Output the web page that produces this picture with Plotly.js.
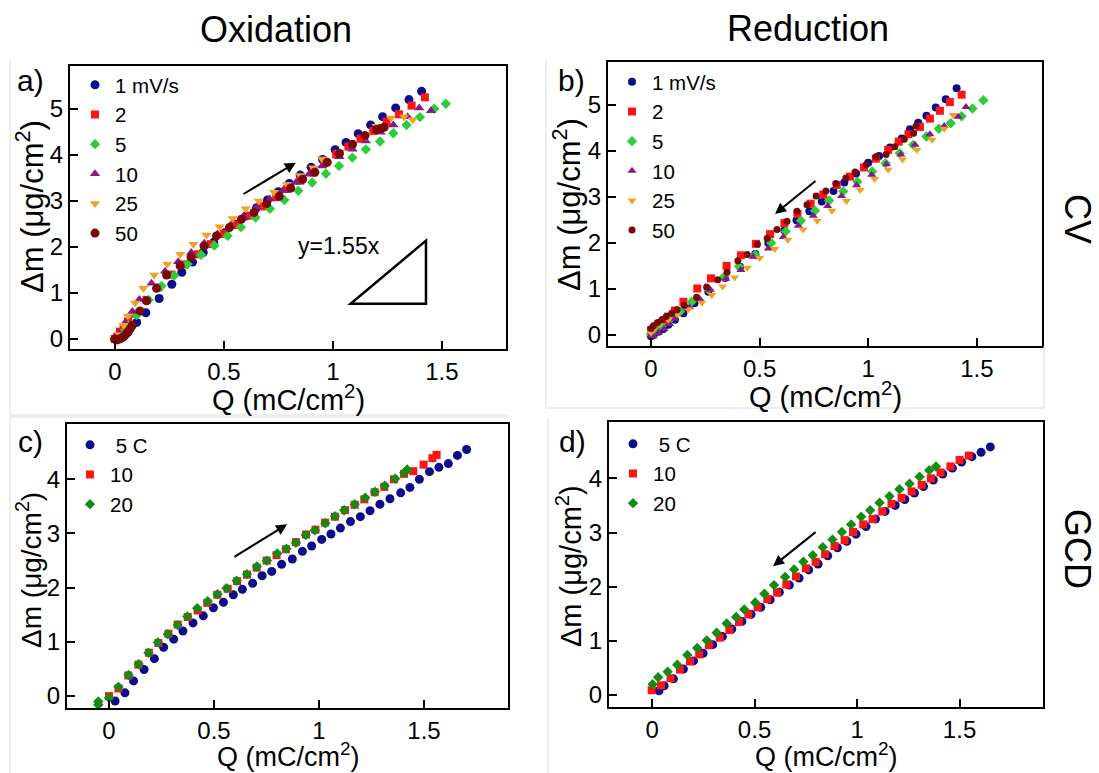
<!DOCTYPE html>
<html>
<head>
<meta charset="utf-8">
<script src="https://cdn.plot.ly/plotly-3.0.1.min.js"></script>
<style>html,body{margin:0;padding:0;background:#fff;}#chart{width:1099px;height:773px;}</style>
</head>
<body>
<div id="chart"></div>
<script>
// ---------- Panel a: CV oxidation ----------
const aNames = ["1 mV/s", "2", "5", "10", "25", "50"];
const a1x = [0.0, 0.02, 0.04, 0.06, 0.10, 0.142, 0.203, 0.261, 0.307, 0.356, 0.405, 0.453, 0.505, 0.55, 0.60, 0.65, 0.70, 0.75, 0.80, 0.85, 0.90, 0.953, 1.01, 1.06, 1.116, 1.173, 1.228, 1.288, 1.349, 1.407];
const a1y = [0.0, 0.02, 0.06, 0.15, 0.36, 0.57, 0.88, 1.19, 1.45, 1.67, 1.88, 2.10, 2.31, 2.49, 2.67, 2.85, 3.02, 3.20, 3.38, 3.56, 3.73, 3.90, 4.11, 4.27, 4.46, 4.65, 4.83, 5.02, 5.20, 5.38];
const a2x = [0.0, 0.01, 0.023, 0.04, 0.06, 0.09, 0.145, 0.2, 0.26, 0.32, 0.38, 0.44, 0.5, 0.56, 0.62, 0.68, 0.74, 0.79, 0.85, 0.91, 0.96, 1.015, 1.071, 1.127, 1.185, 1.246, 1.303, 1.361, 1.422];
const a2y = [0.0, 0.05, 0.16, 0.25, 0.38, 0.55, 0.85, 1.12, 1.40, 1.62, 1.84, 2.06, 2.28, 2.48, 2.68, 2.88, 3.08, 3.26, 3.44, 3.62, 3.82, 4.01, 4.18, 4.35, 4.52, 4.72, 4.88, 5.07, 5.25];
const a5x = [0.0, 0.03, 0.06, 0.1, 0.155, 0.214, 0.272, 0.333, 0.395, 0.456, 0.517, 0.578, 0.645, 0.711, 0.777, 0.841, 0.905, 0.968, 1.028, 1.089, 1.151, 1.216, 1.277, 1.338, 1.399, 1.465, 1.518];
const a5y = [0.0, 0.12, 0.3, 0.52, 0.85, 1.15, 1.38, 1.63, 1.83, 2.03, 2.24, 2.43, 2.64, 2.83, 3.02, 3.22, 3.40, 3.59, 3.76, 3.94, 4.12, 4.29, 4.47, 4.65, 4.82, 5.0, 5.11];
const a10x = [0.0, 0.02, 0.046, 0.08, 0.112, 0.168, 0.23, 0.29, 0.35, 0.41, 0.47, 0.53, 0.59, 0.65, 0.71, 0.77, 0.83, 0.89, 0.95, 1.03, 1.09, 1.151, 1.219, 1.277, 1.343, 1.396, 1.45];
const a10y = [0.0, 0.12, 0.35, 0.6, 0.86, 1.21, 1.47, 1.68, 1.88, 2.08, 2.28, 2.47, 2.66, 2.86, 3.04, 3.22, 3.40, 3.58, 3.76, 3.96, 4.12, 4.30, 4.49, 4.65, 4.83, 5.02, 4.96];
const a25x = [0.0, 0.02, 0.04, 0.06, 0.093, 0.131, 0.18, 0.24, 0.30, 0.36, 0.42, 0.48, 0.54, 0.60, 0.66, 0.73, 0.79, 0.85, 0.91, 0.951, 1.03, 1.09, 1.15, 1.2, 1.266, 1.326, 1.366];
const a25y = [0.0, 0.1, 0.3, 0.5, 0.78, 1.1, 1.39, 1.63, 1.84, 2.06, 2.26, 2.44, 2.62, 2.83, 3.0, 3.19, 3.36, 3.55, 3.72, 3.91, 4.06, 4.22, 4.40, 4.62, 4.80, 4.83, 4.76];
const a50x = [0.0, 0.01, 0.02, 0.03, 0.04, 0.05, 0.06, 0.07, 0.08, 0.115, 0.145, 0.191, 0.237, 0.299, 0.349, 0.409, 0.466, 0.525, 0.58, 0.638, 0.696, 0.754, 0.806, 0.861, 0.917, 0.974, 1.03, 1.09, 1.147, 1.2, 1.22, 1.235];
const a50y = [0.0, -0.02, 0.0, 0.02, 0.05, 0.1, 0.15, 0.22, 0.3, 0.61, 0.83, 1.10, 1.39, 1.59, 1.78, 2.02, 2.24, 2.42, 2.60, 2.75, 2.94, 3.10, 3.28, 3.47, 3.62, 3.84, 4.03, 4.23, 4.42, 4.55, 4.57, 4.60];

// ---------- Panel b: CV reduction ----------
const bNames = ["1 mV/s", "2", "5", "10", "25", "50"];
const b1x = [0.0, 0.011, 0.034, 0.057, 0.08, 0.11, 0.149, 0.2, 0.264, 0.341, 0.41, 0.48, 0.54, 0.614, 0.67, 0.729, 0.786, 0.84, 0.89, 0.944, 1.0, 1.05, 1.1, 1.154, 1.192, 1.23, 1.268, 1.311, 1.357, 1.407];
const b1y = [-0.03, 0.0, 0.07, 0.13, 0.22, 0.33, 0.47, 0.69, 0.94, 1.24, 1.48, 1.76, 2.0, 2.27, 2.49, 2.69, 2.90, 3.13, 3.31, 3.51, 3.74, 3.89, 4.07, 4.27, 4.47, 4.61, 4.76, 4.94, 5.12, 5.36];
const b2x = [0.0, 0.02, 0.04, 0.06, 0.08, 0.11, 0.149, 0.213, 0.276, 0.348, 0.414, 0.483, 0.548, 0.614, 0.674, 0.735, 0.793, 0.855, 0.916, 0.98, 1.035, 1.092, 1.14, 1.185, 1.238, 1.284, 1.33, 1.376, 1.43];
const b2y = [0.1, 0.17, 0.24, 0.32, 0.4, 0.53, 0.72, 1.01, 1.23, 1.50, 1.73, 1.98, 2.19, 2.43, 2.63, 2.85, 3.05, 3.26, 3.44, 3.64, 3.83, 4.02, 4.20, 4.36, 4.52, 4.70, 4.87, 5.06, 5.22];
const b5x = [0.0, 0.02, 0.05, 0.09, 0.134, 0.187, 0.264, 0.338, 0.405, 0.48, 0.553, 0.62, 0.69, 0.755, 0.82, 0.885, 0.95, 1.018, 1.08, 1.145, 1.207, 1.268, 1.325, 1.38, 1.43, 1.48, 1.53];
const b5y = [0.02, 0.1, 0.2, 0.35, 0.51, 0.72, 0.99, 1.27, 1.49, 1.74, 2.0, 2.25, 2.48, 2.70, 2.92, 3.12, 3.33, 3.55, 3.73, 3.95, 4.13, 4.31, 4.48, 4.6, 4.75, 4.92, 5.1];
const b10x = [0.0, 0.011, 0.035, 0.06, 0.085, 0.11, 0.177, 0.225, 0.273, 0.345, 0.414, 0.47, 0.54, 0.609, 0.678, 0.747, 0.813, 0.877, 0.946, 1.016, 1.084, 1.15, 1.215, 1.284, 1.35, 1.414, 1.45];
const b10y = [0.0, -0.03, 0.05, 0.13, 0.24, 0.35, 0.60, 0.78, 0.98, 1.22, 1.41, 1.70, 1.88, 2.13, 2.37, 2.59, 2.80, 3.02, 3.25, 3.48, 3.71, 3.92, 4.13, 4.36, 4.54, 4.74, 4.95];
const b25x = [0.0, 0.011, 0.04, 0.08, 0.12, 0.172, 0.234, 0.28, 0.33, 0.385, 0.443, 0.5, 0.57, 0.63, 0.7, 0.765, 0.833, 0.9, 0.963, 1.03, 1.092, 1.158, 1.224, 1.294, 1.35, 1.391];
const b25y = [0.05, 0.12, 0.23, 0.33, 0.45, 0.56, 0.70, 0.87, 1.05, 1.25, 1.46, 1.67, 1.87, 2.07, 2.29, 2.48, 2.70, 2.91, 3.15, 3.39, 3.59, 3.81, 4.02, 4.24, 4.48, 4.78];
const b50x = [0.0, 0.011, 0.03, 0.05, 0.07, 0.095, 0.12, 0.153, 0.21, 0.256, 0.307, 0.35, 0.4, 0.443, 0.49, 0.535, 0.58, 0.626, 0.672, 0.718, 0.76, 0.805, 0.851, 0.897, 0.939, 0.99, 1.036, 1.082, 1.123, 1.166, 1.209, 1.22];
const b50y = [0.14, 0.2, 0.27, 0.33, 0.4, 0.47, 0.55, 0.64, 0.82, 1.04, 1.2, 1.36, 1.61, 1.75, 1.97, 2.1, 2.29, 2.47, 2.69, 2.83, 3.02, 3.13, 3.29, 3.41, 3.54, 3.70, 3.87, 3.92, 4.09, 4.25, 4.38, 4.54];

// ---------- Panel c: GCD oxidation ----------
const cNames = ["\u00a05 C", "10", "20"];
const c5x = [0.029, 0.076, 0.117, 0.167, 0.216, 0.26, 0.308, 0.352, 0.4, 0.449, 0.497, 0.545, 0.592, 0.635, 0.684, 0.729, 0.775, 0.822, 0.873, 0.921, 0.965, 1.013, 1.057, 1.102, 1.15, 1.197, 1.243, 1.29, 1.338, 1.389, 1.433, 1.478, 1.526, 1.571, 1.616, 1.659, 1.703];
const c5y = [-0.09, 0.06, 0.28, 0.49, 0.69, 0.90, 1.05, 1.20, 1.35, 1.48, 1.63, 1.73, 1.87, 1.97, 2.08, 2.22, 2.30, 2.43, 2.53, 2.67, 2.77, 2.89, 2.99, 3.10, 3.22, 3.31, 3.42, 3.54, 3.64, 3.75, 3.85, 4.0, 4.14, 4.22, 4.29, 4.44, 4.55];
const c10x = [0.0, 0.045, 0.092, 0.14, 0.19, 0.235, 0.283, 0.327, 0.375, 0.422, 0.468, 0.516, 0.565, 0.61, 0.657, 0.703, 0.751, 0.798, 0.843, 0.89, 0.938, 0.983, 1.029, 1.076, 1.124, 1.17, 1.216, 1.265, 1.311, 1.357, 1.405, 1.449, 1.498, 1.54, 1.56];
const c10y = [0.0, 0.14, 0.38, 0.58, 0.80, 0.98, 1.15, 1.32, 1.46, 1.58, 1.72, 1.87, 1.98, 2.12, 2.24, 2.37, 2.50, 2.60, 2.71, 2.84, 2.98, 3.07, 3.20, 3.31, 3.43, 3.53, 3.63, 3.76, 3.86, 4.0, 4.10, 4.15, 4.27, 4.39, 4.45];
const c20x = [-0.051, -0.051, 0.0, 0.045, 0.093, 0.141, 0.188, 0.233, 0.28, 0.327, 0.373, 0.42, 0.47, 0.516, 0.56, 0.608, 0.657, 0.704, 0.752, 0.801, 0.845, 0.89, 0.937, 0.98, 1.03, 1.076, 1.12, 1.17, 1.22, 1.266, 1.313, 1.363, 1.406, 1.42];
const c20y = [-0.1, -0.16, -0.03, 0.17, 0.39, 0.59, 0.80, 0.99, 1.14, 1.31, 1.47, 1.62, 1.75, 1.88, 1.99, 2.13, 2.25, 2.39, 2.50, 2.63, 2.72, 2.83, 2.97, 3.06, 3.19, 3.32, 3.43, 3.54, 3.66, 3.77, 3.88, 4.01, 4.12, 4.18];

// ---------- Panel d: GCD reduction ----------
const dNames = ["\u00a05 C", "10", "20"];
const d5x = [0.034, 0.059, 0.104, 0.153, 0.202, 0.249, 0.296, 0.343, 0.389, 0.438, 0.483, 0.53, 0.576, 0.621, 0.67, 0.717, 0.764, 0.81, 0.857, 0.904, 0.95, 0.995, 1.044, 1.09, 1.137, 1.186, 1.233, 1.28, 1.324, 1.372, 1.418, 1.465, 1.51, 1.56, 1.605, 1.65];
const d5y = [0.08, 0.17, 0.30, 0.48, 0.63, 0.77, 0.93, 1.08, 1.22, 1.36, 1.49, 1.62, 1.76, 1.90, 2.03, 2.16, 2.31, 2.42, 2.57, 2.72, 2.84, 2.97, 3.11, 3.25, 3.39, 3.50, 3.61, 3.73, 3.85, 3.97, 4.08, 4.19, 4.30, 4.40, 4.48, 4.58];
const d10x = [-0.002, 0.044, 0.09, 0.136, 0.185, 0.23, 0.277, 0.33, 0.377, 0.424, 0.47, 0.515, 0.562, 0.61, 0.655, 0.702, 0.75, 0.798, 0.844, 0.89, 0.939, 0.98, 1.03, 1.076, 1.123, 1.168, 1.217, 1.266, 1.315, 1.36, 1.407, 1.455, 1.5, 1.545];
const d10y = [0.09, 0.18, 0.31, 0.47, 0.62, 0.75, 0.92, 1.06, 1.20, 1.35, 1.49, 1.62, 1.77, 1.89, 2.04, 2.19, 2.34, 2.46, 2.60, 2.75, 2.86, 3.01, 3.15, 3.25, 3.39, 3.53, 3.64, 3.76, 3.88, 4.0, 4.11, 4.22, 4.34, 4.42];
const d20x = [0.003, 0.03, 0.076, 0.123, 0.172, 0.22, 0.267, 0.315, 0.364, 0.41, 0.45, 0.503, 0.548, 0.595, 0.649, 0.693, 0.738, 0.784, 0.833, 0.88, 0.926, 0.971, 1.02, 1.064, 1.11, 1.158, 1.207, 1.256, 1.305, 1.352, 1.385];
const d20y = [0.2, 0.33, 0.43, 0.56, 0.74, 0.87, 1.01, 1.15, 1.32, 1.44, 1.58, 1.71, 1.87, 2.03, 2.18, 2.32, 2.46, 2.58, 2.73, 2.87, 3.01, 3.15, 3.29, 3.41, 3.55, 3.67, 3.80, 3.90, 4.03, 4.15, 4.22];

const yTicksCV = [0, 1, 2, 3, 4, 5];
const yTicksGCD = [0, 1, 2, 3, 4];
const xTitle = 'Q (mC/cm<sup>2</sup>)';
const yTitle = 'Δm (μg/cm<sup>2</sup>)';

// ---------- styles ----------
const NAVY = '#0c0c8c', RED = '#ff1414', GREEN = '#2fcc3a', DGREEN = '#138c13',
      PURPLE = '#861a8c', ORANGE = '#f3a124', MAROON = '#7a0808';

function tr(x, y, name, sym, color, size, ax, leg) {
  return {type: 'scatter', mode: 'markers', x: x, y: y, name: name,
    xaxis: ax[0], yaxis: ax[1], legend: leg,
    marker: {symbol: sym, color: color, size: size, line: {width: 0}}};
}
const A = ['x', 'y'], B = ['x2', 'y2'], C = ['x3', 'y3'], D = ['x4', 'y4'];
const data = [
  tr(a1x, a1y, aNames[0], 'circle', NAVY, 9, A, 'legend'),
  tr(a2x, a2y, aNames[1], 'square', RED, 8, A, 'legend'),
  tr(a5x, a5y, aNames[2], 'diamond', GREEN, 8, A, 'legend'),
  tr(a10x, a10y, aNames[3], 'triangle-up', PURPLE, 9, A, 'legend'),
  tr(a25x, a25y, aNames[4], 'triangle-down', ORANGE, 9, A, 'legend'),
  tr(a50x, a50y, aNames[5], 'circle', MAROON, 9, A, 'legend'),
  tr(b1x, b1y, bNames[0], 'circle', NAVY, 8, B, 'legend2'),
  tr(b2x, b2y, bNames[1], 'square', RED, 8, B, 'legend2'),
  tr(b5x, b5y, bNames[2], 'diamond', GREEN, 8, B, 'legend2'),
  tr(b10x, b10y, bNames[3], 'triangle-up', PURPLE, 8, B, 'legend2'),
  tr(b25x, b25y, bNames[4], 'triangle-down', ORANGE, 8, B, 'legend2'),
  tr(b50x, b50y, bNames[5], 'circle', MAROON, 7, B, 'legend2'),
  tr(c5x, c5y, cNames[0], 'circle', NAVY, 9, C, 'legend3'),
  tr(c10x, c10y, cNames[1], 'square', RED, 8, C, 'legend3'),
  tr(c20x, c20y, cNames[2], 'diamond', DGREEN, 8, C, 'legend3'),
  tr(d5x, d5y, dNames[0], 'circle', NAVY, 9, D, 'legend4'),
  tr(d10x, d10y, dNames[1], 'square', RED, 8, D, 'legend4'),
  tr(d20x, d20y, dNames[2], 'diamond', DGREEN, 8, D, 'legend4')
];

const W = 1099, H = 773;
const px = v => v / W, py = v => 1 - v / H;

function xa(d0, d1, r, anchor) {
  return {domain: [px(d0), px(d1)], range: r, anchor: anchor,
    showline: true, linecolor: '#000', linewidth: 2, mirror: true,
    ticks: 'inside', ticklen: 8, tickwidth: 2, tickcolor: '#000',
    showgrid: false, zeroline: false, tick0: 0, dtick: 0.5,
    tickfont: {size: 24, color: '#000'}};
}
function ya(d0, d1, r, anchor, tv) {
  return {domain: [py(d1), py(d0)], range: r, anchor: anchor,
    showline: true, linecolor: '#000', linewidth: 2, mirror: true,
    ticks: 'inside', ticklen: 8, tickwidth: 2, tickcolor: '#000',
    showgrid: false, zeroline: false, tickmode: 'array', tickvals: tv,
    tickfont: {size: 24, color: '#000'}};
}
function leg(xp, yp) {
  return {x: px(xp), y: py(yp), xanchor: 'left', yanchor: 'top',
    bgcolor: 'rgba(0,0,0,0)', borderwidth: 0, font: {size: 20.5, color: '#000'},
    itemwidth: 30, tracegroupgap: 0};
}
function lbl(text, xp, yp, size, angle) {
  return {text: text, x: px(xp), y: py(yp), xref: 'paper', yref: 'paper',
    xanchor: 'center', yanchor: 'middle', showarrow: false, textangle: angle || 0,
    borderpad: 0, font: {size: size, color: '#000'}};
}
function arrow(axn, x0, y0, x1, y1) {
  return {xref: axn[0], yref: axn[1], axref: axn[0], ayref: axn[1],
    x: x1, y: y1, ax: x0, ay: y0, text: '', showarrow: true,
    arrowhead: 2, arrowsize: 1.1, arrowwidth: 2, arrowcolor: '#000'};
}
function frameLine(x0, y0, x1, y1) {
  return {type: 'line', xref: 'paper', yref: 'paper', x0: px(x0), y0: py(y0), x1: px(x1), y1: py(y1),
    line: {color: '#dcdcdc', width: 1}};
}

const layout = {
  width: W, height: H, margin: {l: 0, r: 0, t: 0, b: 0},
  paper_bgcolor: '#fff', plot_bgcolor: '#fff',
  font: {family: 'Liberation Sans, Arial, sans-serif', color: '#000'},
  showlegend: true,
  xaxis: xa(70, 506, [-0.206, 1.794], 'y'),
  yaxis: ya(66, 349, [-0.217, 5.93], 'x', yTicksCV),
  xaxis2: xa(608, 1042, [-0.198, 1.80], 'y2'),
  yaxis2: ya(62, 346, [-0.24, 5.93], 'x2', yTicksCV),
  xaxis3: xa(67, 508, [-0.2, 1.9], 'y3'),
  yaxis3: ya(424, 708, [-0.22, 5.02], 'x3', yTicksGCD),
  xaxis4: xa(609, 1043, [-0.21, 1.907], 'y4'),
  yaxis4: ya(422, 707, [-0.22, 5.04], 'x4', yTicksGCD),
  legend: leg(75, 65),
  legend2: leg(612, 62),
  legend3: leg(70, 425),
  legend4: leg(613, 424),
  annotations: [
    lbl('Oxidation', 276, 30, 36),
    lbl('Reduction', 808, 28, 36),
    lbl('CV', 1078, 219, 36, 90),
    lbl('GCD', 1078, 549, 36, 90),
    lbl('a)', 30, 80, 30),
    lbl('b)', 571, 81, 30),
    lbl('c)', 30, 442, 30),
    lbl('d)', 572, 442, 30),
    // axis titles
    lbl(xTitle, 288, 398, 29),
    lbl(xTitle, 825, 395, 29),
    lbl(xTitle, 288, 755, 27),
    lbl(xTitle, 826, 755, 27),
    lbl(yTitle, 30, 207, 31, -90),
    lbl(yTitle, 567, 205, 31, -90),
    lbl(yTitle, 29, 570, 28, -90),
    lbl(yTitle, 569, 566, 29, -90),
    {text: 'y=1.55x', x: 1.028, y: 2.02, xref: 'x', yref: 'y', showarrow: false,
     xanchor: 'center', yanchor: 'middle', font: {size: 23, color: '#000'}},
    arrow(A, 0.583, 3.13, 0.830, 3.83),
    arrow(B, 0.764, 3.37, 0.571, 2.63),
    arrow(C, 0.59, 2.55, 0.848, 3.17),
    arrow(D, 0.805, 3.03, 0.59, 2.38)
  ],
  shapes: [
    {type: 'path', xref: 'x', yref: 'y', path: 'M 1.081 0.765 L 1.427 0.765 L 1.427 2.137 Z',
     line: {color: '#000', width: 2.5}, fillcolor: 'rgba(0,0,0,0)'},
    frameLine(10, 60, 10, 415), frameLine(10, 415, 508, 415),
    frameLine(546, 60, 546, 408), frameLine(546, 408, 1044, 408), frameLine(1044, 346, 1044, 408),
    frameLine(10, 417, 10, 773), frameLine(10, 417, 508, 417),
    frameLine(548, 418, 548, 773)
  ]
};

Plotly.newPlot('chart', data, layout, {staticPlot: true, displayModeBar: false});
</script>
</body>
</html>
